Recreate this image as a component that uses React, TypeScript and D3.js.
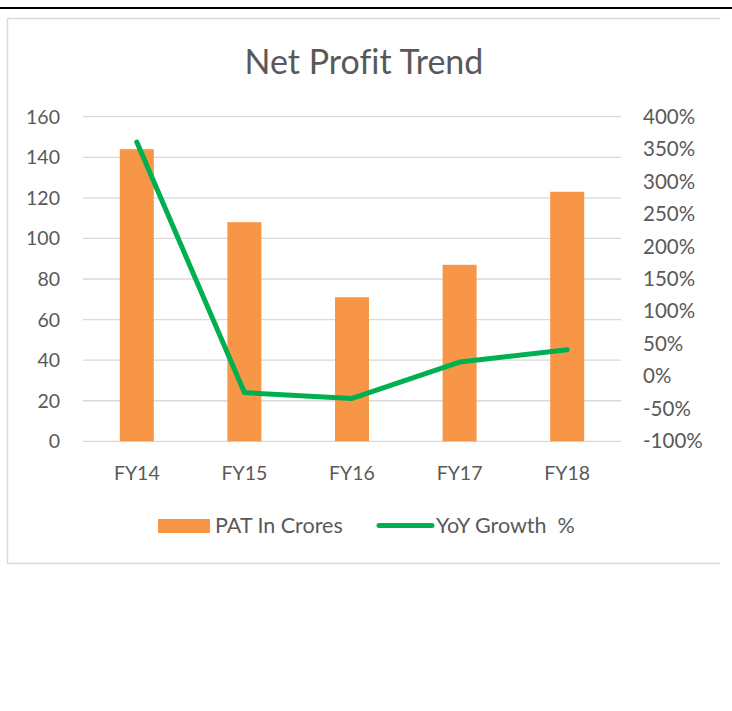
import React, { useEffect, useRef } from "react";
import * as d3 from "d3";

const categories = ["FY14", "FY15", "FY16", "FY17", "FY18"];
const patValues = [144, 108, 71, 87, 123];
const yoyGrowth = [3.61, -0.25, -0.34, 0.22, 0.41];
const leftTicks = [0, 20, 40, 60, 80, 100, 120, 140, 160];
const rightTicks = [-1, -0.5, 0, 0.5, 1, 1.5, 2, 2.5, 3, 3.5, 4];

const FONT = "Lato, 'Open Sans', sans-serif";
const TEXT = "#595959";

export default function App() {
  const ref = useRef<SVGSVGElement>(null);

  useEffect(() => {
    const svg = d3.select(ref.current);
    svg.selectAll("*").remove();
    svg.style("font-variant-ligatures", "none");

    // page decorations: black rule and chart frame
    svg.append("rect").attr("x", 0).attr("y", 7).attr("width", 732).attr("height", 2).attr("fill", "#000");
    svg.append("path")
      .attr("d", "M720,18.5 H7.5 V563.5 H720")
      .attr("fill", "none")
      .attr("stroke", "#d9d9d9")
      .attr("stroke-width", 1.5);

    const plot = { left: 83, right: 621, top: 116.7, bottom: 441.3 };

    const x = d3.scaleBand().domain(categories).range([plot.left, plot.right]);
    const yL = d3.scaleLinear().domain([0, 160]).range([plot.bottom, plot.top]);
    const yR = d3.scaleLinear().domain([-1, 4]).range([plot.bottom, plot.top]);

    svg.append("text")
      .attr("x", 364).attr("y", 74)
      .attr("text-anchor", "middle")
      .attr("font-family", FONT)
      .attr("font-size", 34)
      .attr("fill", TEXT)
      .text("Net Profit Trend");

    // gridlines
    svg.append("g").selectAll("line")
      .data(leftTicks)
      .join("line")
      .attr("x1", plot.left).attr("x2", plot.right)
      .attr("y1", d => yL(d)).attr("y2", d => yL(d))
      .attr("stroke", "#d9d9d9").attr("stroke-width", 1.3);

    // left axis labels
    svg.append("g").selectAll("text")
      .data(leftTicks)
      .join("text")
      .attr("x", 60).attr("y", d => yL(d) + 7)
      .attr("text-anchor", "end")
      .attr("font-family", FONT).attr("font-size", 19.5).attr("fill", TEXT)
      .text(d => d);

    // right axis labels (plain hyphen for negatives)
    svg.append("g").selectAll("text")
      .data(rightTicks)
      .join("text")
      .attr("x", 643).attr("y", d => yR(d) + 7)
      .attr("font-family", FONT).attr("font-size", 20.5).attr("fill", TEXT)
      .text(d => Math.round(d * 100) + "%");

    // x labels
    svg.append("g").selectAll("text")
      .data(categories)
      .join("text")
      .attr("x", d => x(d)! + x.bandwidth() / 2).attr("y", 480)
      .attr("text-anchor", "middle")
      .attr("font-family", FONT).attr("font-size", 19.5).attr("fill", TEXT)
      .text(d => d);

    const barW = 34;
    svg.append("g").selectAll("rect")
      .data(patValues)
      .join("rect")
      .attr("x", (d, i) => x(categories[i])! + x.bandwidth() / 2 - barW / 2)
      .attr("y", d => yL(d))
      .attr("width", barW)
      .attr("height", d => plot.bottom - yL(d))
      .attr("fill", "#f79646");

    const line = d3.line<number>()
      .x((d, i) => x(categories[i])! + x.bandwidth() / 2)
      .y(d => yR(d));

    svg.append("path")
      .datum(yoyGrowth)
      .attr("d", line)
      .attr("fill", "none")
      .attr("stroke", "#00b050")
      .attr("stroke-width", 5)
      .attr("stroke-linecap", "round")
      .attr("stroke-linejoin", "round");

    // legend
    const lg = svg.append("g");
    lg.append("rect").attr("x", 158).attr("y", 519).attr("width", 52).attr("height", 14).attr("fill", "#f79646");
    lg.append("text").attr("x", 215).attr("y", 533)
      .attr("font-family", FONT).attr("font-size", 21.5).attr("fill", TEXT)
      .text("PAT In Crores");
    lg.append("line").attr("x1", 379).attr("x2", 432).attr("y1", 525.5).attr("y2", 525.5)
      .attr("stroke", "#00b050").attr("stroke-width", 5).attr("stroke-linecap", "round");
    lg.append("text").attr("x", 436).attr("y", 533)
      .attr("font-family", FONT).attr("font-size", 21.5).attr("fill", TEXT)
      .style("white-space", "pre")
      .text("YoY Growth  %");
  }, []);

  return (
    <svg
      ref={ref}
      width={732}
      height={711}
      style={{ position: "absolute", left: 0, top: 0, background: "#fff" }}
    />
  );
}
